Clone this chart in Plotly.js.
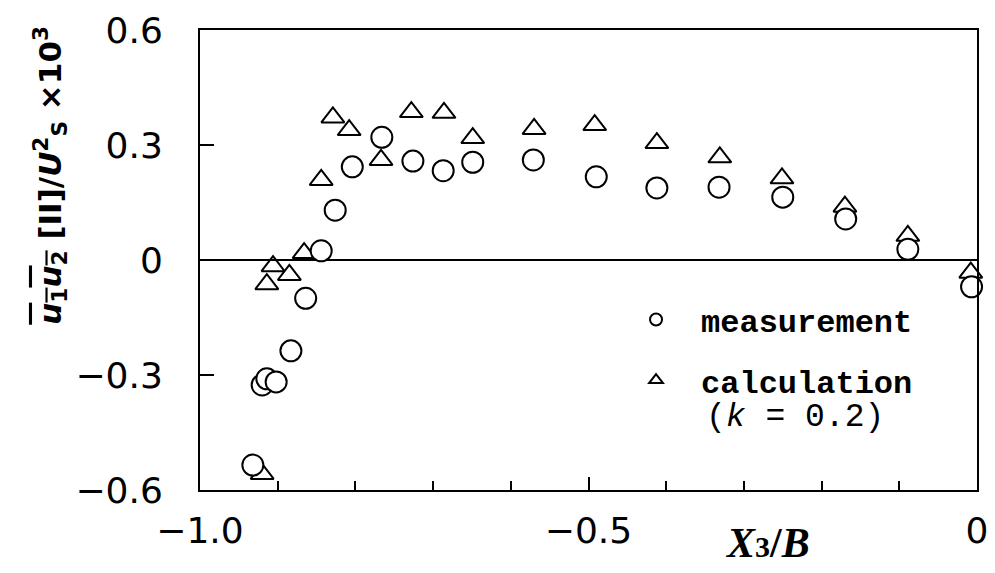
<!DOCTYPE html>
<html>
<head>
<meta charset="utf-8">
<script src="https://cdn.plot.ly/plotly-3.0.1.min.js"></script>
<style>html,body{margin:0;padding:0;background:#fff;}</style>
</head>
<body>
<div id="chart" style="width:995px;height:573px;"></div>
<script>
// measurement (circles)
const measX = [-0.932, -0.920, -0.914, -0.902, -0.883, -0.864, -0.844, -0.826, -0.804, -0.766, -0.726, -0.687, -0.649, -0.571, -0.490, -0.412, -0.332, -0.250, -0.169, -0.089, -0.007];
const measY = [-0.535, -0.326, -0.310, -0.318, -0.237, -0.100, 0.024, 0.130, 0.243, 0.320, 0.258, 0.233, 0.255, 0.261, 0.217, 0.188, 0.190, 0.164, 0.107, 0.028, -0.070];
// calculation (triangles)
const calcX = [-0.920, -0.914, -0.906, -0.885, -0.866, -0.844, -0.829, -0.808, -0.767, -0.728, -0.686, -0.649, -0.570, -0.492, -0.412, -0.331, -0.251, -0.170, -0.089, -0.008];
const calcY = [-0.558, -0.063, -0.016, -0.039, 0.018, 0.209, 0.372, 0.339, 0.261, 0.386, 0.384, 0.318, 0.342, 0.352, 0.305, 0.268, 0.213, 0.139, 0.063, -0.033];
// tick labels
const xTickVals = [-1, -0.5, 0];
const xTickText = ["\u22121.0", "\u22120.5", "0"];
const yTickVals = [-0.6, -0.3, 0, 0.3, 0.6];
const yTickText = ["\u22120.6", "\u22120.3", "0", "0.3", "0.6"];
const seriesNames = ["measurement", "calculation"];

const traces = [
  {
    x: calcX, y: calcY, type: "scatter", mode: "markers", name: seriesNames[1],
    legendgroup: "b", legendrank: 2, cliponaxis: false,
    marker: {symbol: "triangle-up-open", size: 20, color: "#000", line: {width: 2, color: "#000"}}
  },
  {
    x: measX, y: measY, type: "scatter", mode: "markers", name: seriesNames[0],
    legendgroup: "a", legendrank: 1, cliponaxis: false,
    marker: {symbol: "circle", size: 21, color: "#fff", line: {width: 2, color: "#000"}}
  }
];

const tickFont = {family: "DejaVu Sans", size: 36, color: "#000"};

const layout = {
  width: 995, height: 573,
  margin: {l: 200, r: 18, t: 30, b: 83},
  paper_bgcolor: "#fff", plot_bgcolor: "#fff",
  showlegend: true,
  legend: {
    x: 0.529, y: 0.430, xanchor: "left", yanchor: "top",
    font: {family: "Liberation Mono", size: 32, color: "#000", weight: "bold"},
    bgcolor: "rgba(0,0,0,0)", tracegroupgap: 16, itemsizing: "constant", itemwidth: 80
  },
  xaxis: {
    range: [-1, 0], showgrid: false, zeroline: false,
    showline: true, linecolor: "#000", linewidth: 2, mirror: true,
    ticks: "inside", tickvals: xTickVals, ticktext: xTickText, ticklen: 13, tickwidth: 2, tickcolor: "#000",
    minor: {dtick: 0.1, tick0: 0, ticks: "inside", ticklen: 9, tickwidth: 2, tickcolor: "#000", showgrid: false},
    tickfont: tickFont, ticklabelstandoff: 8
  },
  yaxis: {
    range: [-0.6, 0.6], showgrid: false,
    zeroline: true, zerolinecolor: "#000", zerolinewidth: 2,
    showline: true, linecolor: "#000", linewidth: 2, mirror: true,
    ticks: "inside", tickvals: yTickVals, ticktext: yTickText, ticklen: 14, tickwidth: 2, tickcolor: "#000",
    tickfont: tickFont, ticklabelstandoff: 28
  },
  annotations: [
    {
      xref: "paper", yref: "paper", x: 0.649, y: 0.157, xanchor: "left", yanchor: "middle",
      text: "(<i>k</i> = 0.2)", showarrow: false,
      font: {family: "Liberation Mono", size: 33, color: "#000"}
    },
    {
      xref: "paper", yref: "paper", x: 0.730, y: -0.115, xanchor: "center", yanchor: "middle",
      text: "<i>X</i><span style=\"font-size:30px\">3</span>/<i>B</i>", showarrow: false,
      font: {family: "Liberation Serif", size: 42, color: "#000", weight: "bold"}
    },
    {
      xref: "paper", yref: "paper", x: -0.192, y: 0.685, xanchor: "center", yanchor: "middle",
      textangle: -90, showarrow: false,
      text: "<span style=\"text-decoration:overline\"><i>u</i><sub>1</sub><i>u</i><sub>2</sub></span> [II]/<i>U</i><sup>2</sup><sub>S</sub> \u00d710<sup>3</sup>",
      font: {family: "DejaVu Sans", size: 31, color: "#000", weight: "bold"}
    }
  ]
};

Plotly.newPlot("chart", traces, layout, {displayModeBar: false, staticPlot: true});
</script>
</body>
</html>
